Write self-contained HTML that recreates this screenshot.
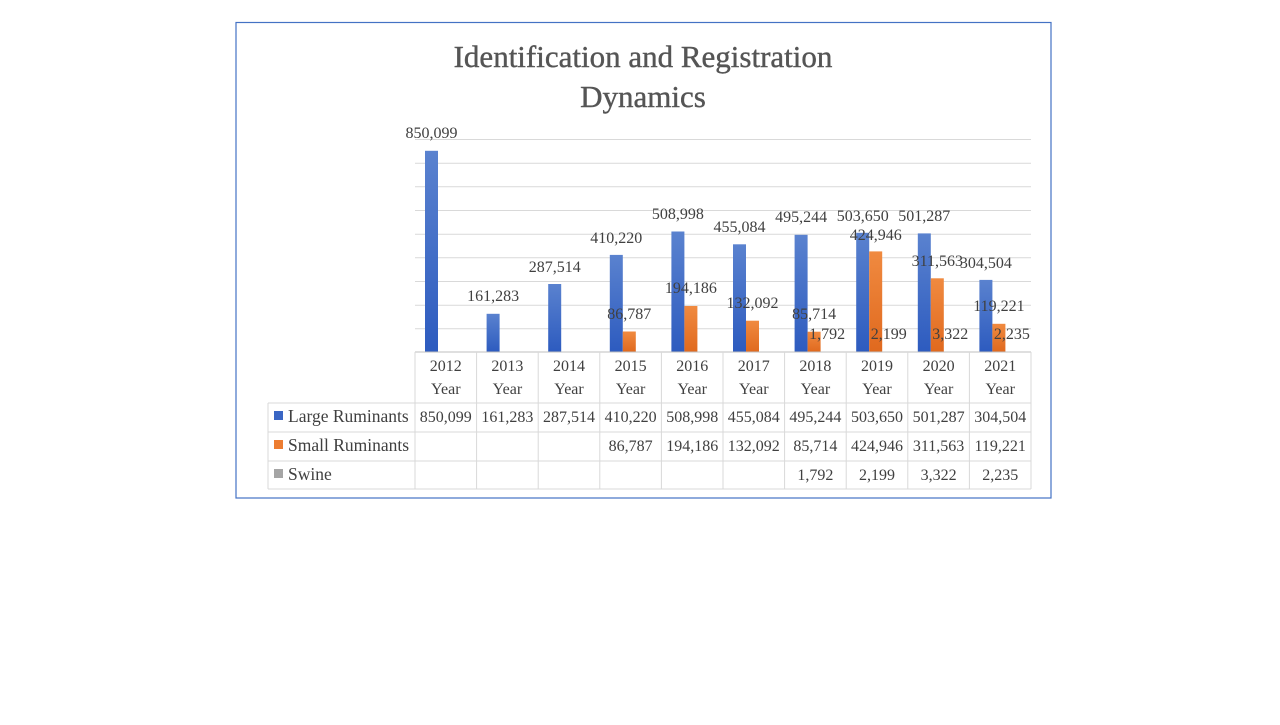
<!DOCTYPE html>
<html><head><meta charset="utf-8"><style>
body{margin:0;background:#fff;width:1280px;height:720px;overflow:hidden}
svg text{font-family:"Liberation Serif",serif;fill:#404040;font-size:16px}
</style></head><body>
<svg width="1280" height="720" viewBox="0 0 1280 720">
<defs>
<linearGradient id="b" x1="0" y1="0" x2="0" y2="1"><stop offset="0" stop-color="#5a82cf"/><stop offset="1" stop-color="#2d5bbf"/></linearGradient>
<linearGradient id="o" x1="0" y1="0" x2="0" y2="1"><stop offset="0" stop-color="#f08a40"/><stop offset="1" stop-color="#e0691e"/></linearGradient>
</defs>
<rect x="236" y="22.5" width="815" height="475.5" fill="#fff" stroke="#4472c4" stroke-width="1.2"/>
<text x="643" y="67" text-anchor="middle" style="font-size:31px;fill:#555;stroke:#555;stroke-width:0.4">Identification and Registration</text>
<text x="643" y="107" text-anchor="middle" style="font-size:31px;fill:#555;stroke:#555;stroke-width:0.4">Dynamics</text>
<g stroke="#d9d9d9" stroke-width="1">
<line x1="415" y1="139.5" x2="1031" y2="139.5"/><line x1="415" y1="163.2" x2="1031" y2="163.2"/><line x1="415" y1="186.8" x2="1031" y2="186.8"/><line x1="415" y1="210.5" x2="1031" y2="210.5"/><line x1="415" y1="234.2" x2="1031" y2="234.2"/><line x1="415" y1="257.8" x2="1031" y2="257.8"/><line x1="415" y1="281.5" x2="1031" y2="281.5"/><line x1="415" y1="305.2" x2="1031" y2="305.2"/><line x1="415" y1="328.8" x2="1031" y2="328.8"/>
</g>
<g fill="url(#b)">
<rect x="425" y="150.8" width="13" height="201.2"/><rect x="486.6" y="313.8" width="13" height="38.2"/><rect x="548.2" y="284" width="13" height="68"/><rect x="609.8" y="254.9" width="13" height="97.1"/><rect x="671.4" y="231.5" width="13" height="120.5"/><rect x="733" y="244.3" width="13" height="107.7"/><rect x="794.6" y="234.8" width="13" height="117.2"/><rect x="856.2" y="232.8" width="13" height="119.2"/><rect x="917.8" y="233.4" width="13" height="118.6"/><rect x="979.4" y="279.9" width="13" height="72.1"/>
</g>
<g fill="url(#o)">
<rect x="622.8" y="331.5" width="13" height="20.5"/><rect x="684.4" y="306" width="13" height="46"/><rect x="746" y="320.7" width="13" height="31.3"/><rect x="807.6" y="331.7" width="13" height="20.3"/><rect x="869.2" y="251.4" width="13" height="100.6"/><rect x="930.8" y="278.3" width="13" height="73.7"/><rect x="992.4" y="323.8" width="13" height="28.2"/>
</g>
<g text-anchor="middle">
<text x="431.5" y="138">850,099</text><text x="493.1" y="301">161,283</text><text x="554.7" y="272">287,514</text><text x="616.3" y="243">410,220</text><text x="677.9" y="219">508,998</text><text x="739.5" y="232">455,084</text><text x="801.1" y="222">495,244</text><text x="862.7" y="221">503,650</text><text x="924.3" y="221">501,287</text><text x="985.9" y="268">304,504</text>
<text x="629.3" y="319">86,787</text><text x="690.9" y="293">194,186</text><text x="752.5" y="308">132,092</text><text x="814.1" y="319">85,714</text><text x="875.7" y="240">424,946</text><text x="937.3" y="266">311,563</text><text x="998.9" y="311">119,221</text>
<text x="827.1" y="339">1,792</text><text x="888.7" y="339">2,199</text><text x="950.3" y="339">3,322</text><text x="1011.9" y="339">2,235</text>
</g>
<g stroke="#d9d9d9" stroke-width="1" fill="none">
<line x1="415" y1="352" x2="1031" y2="352" stroke="#bfbfbf"/>
<line x1="268" y1="403" x2="1031" y2="403"/><line x1="268" y1="432" x2="1031" y2="432"/><line x1="268" y1="461" x2="1031" y2="461"/><line x1="268" y1="489" x2="1031" y2="489"/>
<line x1="268" y1="403" x2="268" y2="489"/>
<line x1="415" y1="352" x2="415" y2="489"/><line x1="476.6" y1="352" x2="476.6" y2="489"/><line x1="538.2" y1="352" x2="538.2" y2="489"/><line x1="599.8" y1="352" x2="599.8" y2="489"/><line x1="661.4" y1="352" x2="661.4" y2="489"/><line x1="723" y1="352" x2="723" y2="489"/><line x1="784.6" y1="352" x2="784.6" y2="489"/><line x1="846.2" y1="352" x2="846.2" y2="489"/><line x1="907.8" y1="352" x2="907.8" y2="489"/><line x1="969.4" y1="352" x2="969.4" y2="489"/><line x1="1031" y1="352" x2="1031" y2="489"/>
</g>
<g text-anchor="middle">
<text x="445.8" y="371">2012</text><text x="445.8" y="394">Year</text>
<text x="507.4" y="371">2013</text><text x="507.4" y="394">Year</text>
<text x="569" y="371">2014</text><text x="569" y="394">Year</text>
<text x="630.6" y="371">2015</text><text x="630.6" y="394">Year</text>
<text x="692.2" y="371">2016</text><text x="692.2" y="394">Year</text>
<text x="753.8" y="371">2017</text><text x="753.8" y="394">Year</text>
<text x="815.4" y="371">2018</text><text x="815.4" y="394">Year</text>
<text x="877" y="371">2019</text><text x="877" y="394">Year</text>
<text x="938.6" y="371">2020</text><text x="938.6" y="394">Year</text>
<text x="1000.2" y="371">2021</text><text x="1000.2" y="394">Year</text>
<text x="445.8" y="422">850,099</text><text x="507.4" y="422">161,283</text><text x="569" y="422">287,514</text><text x="630.6" y="422">410,220</text><text x="692.2" y="422">508,998</text><text x="753.8" y="422">455,084</text><text x="815.4" y="422">495,244</text><text x="877" y="422">503,650</text><text x="938.6" y="422">501,287</text><text x="1000.2" y="422">304,504</text>
<text x="630.6" y="451">86,787</text><text x="692.2" y="451">194,186</text><text x="753.8" y="451">132,092</text><text x="815.4" y="451">85,714</text><text x="877" y="451">424,946</text><text x="938.6" y="451">311,563</text><text x="1000.2" y="451">119,221</text>
<text x="815.4" y="480">1,792</text><text x="877" y="480">2,199</text><text x="938.6" y="480">3,322</text><text x="1000.2" y="480">2,235</text>
</g>
<rect x="274" y="411" width="9" height="9" fill="#3a66c4"/><text x="288" y="422" style="font-size:17.5px">Large Ruminants</text>
<rect x="274" y="440" width="9" height="9" fill="#ed7d31"/><text x="288" y="451" style="font-size:17.5px">Small Ruminants</text>
<rect x="274" y="469" width="9" height="9" fill="#a5a5a5"/><text x="288" y="480" style="font-size:17.5px">Swine</text>
</svg>
</body></html>
